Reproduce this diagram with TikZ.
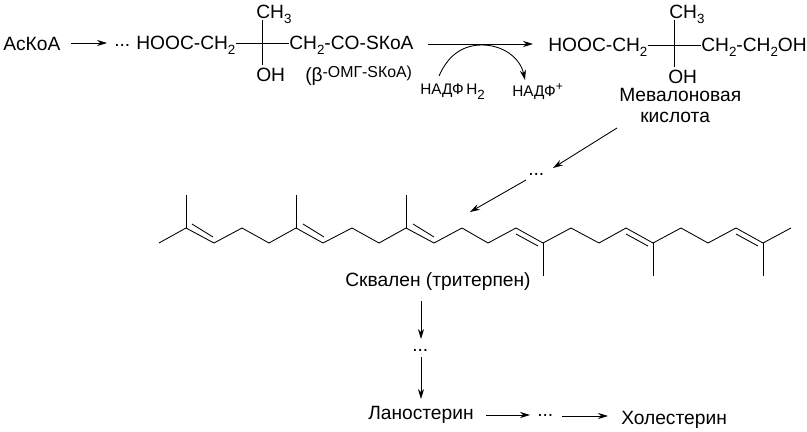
\documentclass[tikz,border=0pt]{standalone}
\usepackage{fontspec}
\setmainfont{Liberation Sans}
\usetikzlibrary{arrows.meta}
\newcommand{\sbs}[1]{\raisebox{-4.4pt}{\fontsize{10}{11}\selectfont #1}}
\tikzset{
  txt/.style={inner sep=0pt, anchor=base west, font=\fontsize{14.4}{16}\selectfont},
  small/.style={inner sep=0pt, anchor=base west, font=\fontsize{11.5}{13}\selectfont},
  bond/.style={line width=0.65pt},
  react/.style={line width=0.65pt, -{Stealth[length=7.5pt, width=4.6pt, inset=2.4pt]}},
}
\begin{document}
\begin{tikzpicture}[x=0.75pt, y=-0.75pt]
            \useasboundingbox (0,0) rectangle (807,432);

            % First row
            \node[txt] (ackoa) at (3,50) {АсКоА};
            \node[txt] (dotsa) at (114,46) {...};
            \node[txt] (hoocl) at (136,49) {HOOC-CH\sbs{2}};
            \node[txt] (coskoa) at (289,49) {CH\sbs{2}-CO-SКоА};
            \node[txt] (cmea) at (256,18) {CH\sbs{3}};
            \node[txt] (oha) at (256,81) {OH};
            \node[txt] (omg) at (305,81) {(β\raisebox{2.5pt}{\fontsize{11.9}{13}\selectfont -ОМГ-SКоА)}};
            \coordinate (ca) at (262,43);
            \coordinate (caup) at (262,20);
            \coordinate (cadown) at (262,65);
            \draw[bond] (ca -| hoocl.east) -- (ca -| coskoa.west);
            \draw[bond] (caup) -- (cadown);
            \coordinate (acin) at (71,43);
            \coordinate (acout) at (107,43);
            \draw[react] (acin) -- (acout);

            % Second row
            \node[txt] (hoocr) at (548,51) {HOOC-CH\sbs{2}};
            \node[txt] (choh) at (701,51) {CH\sbs{2}-CH\sbs{2}OH};
            \node[txt] (cmeb) at (669,18) {CH\sbs{3}};
            \node[txt] (ohb) at (668,83) {OH};
            \coordinate (cb) at (674,45);
            \coordinate (cbup) at (674,20);
            \coordinate (cbdown) at (674,67);
            \draw[bond] (cb -| hoocr.east) -- (cb -| choh.west);
            \draw[bond] (cbup) -- (cbdown);
            \coordinate (redin) at (428,44);
            \coordinate (redout) at (533,44);
            \draw[react] (redin) -- (redout);

            % Cofactor
            \node[small] (nadh) at (420,94) {НАДФ\,H\sbs{2}};
            \node[small] (nadp) at (512,96) {НАДФ\raisebox{4pt}{\fontsize{9}{11}\selectfont +}};
            \coordinate (nadhtop) at (439,76);
            \coordinate (nadptop) at (525,80);
            \draw[react] (nadhtop) .. controls (449,53) and (465,45) .. (482,45)
                         .. controls (502,45) and (520,57) .. (nadptop);

            % Mevalonate
            \node[txt] (meva) at (619,101) {Мевалоновая};
            \node[txt] (kisl) at (640,122) {кислота};
            \node[txt] (dotsb) at (528,175) {...};
            \coordinate (mevaout) at (617,128);
            \coordinate (dotsbin) at (553,168);
            \coordinate (dotsbout) at (526,180);
            \coordinate (sqtop) at (470,212);
            \draw[react] (mevaout) -- (dotsbin);
            \draw[react] (dotsbout) -- (sqtop);

            % Squalene
            \draw[bond] (159,243) -- (186,228) -- (214,243) -- (242,228) -- (269,243) -- (296,228)
                -- (323,243) -- (352,228) -- (379,243) -- (406,228) -- (434,243) -- (462,228)
                -- (488,243) -- (516,228) -- (543,243) -- (571,228) -- (599,243) -- (626,228)
                -- (653,243) -- (681,228) -- (708,243) -- (736,228) -- (763,243) -- (791,228);
            \foreach \x in {186,296,406}
                \draw[bond] (\x,195) -- (\x,228);
            \foreach \x in {543,653,763}
                \draw[bond] (\x,243) -- (\x,276);
            \foreach \x in {192,303,413}
                \draw[bond] (\x,224) -- ++(21,13);
            \foreach \x in {516,626,736}
                \draw[bond] (\x,234) -- ++(22,12);

            % Bottom
            \node[txt] (sqval) at (345,286) {Сквален (тритерпен)};
            \node[txt] (dotsc) at (412,351) {...};
            \node[txt] (lano) at (368,419) {Ланостерин};
            \node[txt] (dotsd) at (537,416) {...};
            \node[txt] (chol) at (621,424) {Холестерин};
            \coordinate (sqout) at (421,301);
            \coordinate (dotscin) at (421,339);
            \coordinate (dotscout) at (421,357);
            \coordinate (lanoin) at (421,399);
            \coordinate (lanoout) at (486,415);
            \coordinate (dotsdin) at (530,415);
            \coordinate (dotsdout) at (562,416);
            \coordinate (cholin) at (608,416);
            \draw[react] (sqout) -- (dotscin);
            \draw[react] (dotscout) -- (lanoin);
            \draw[react] (lanoout) -- (dotsdin);
            \draw[react] (dotsdout) -- (cholin);
\end{tikzpicture}
\end{document}
